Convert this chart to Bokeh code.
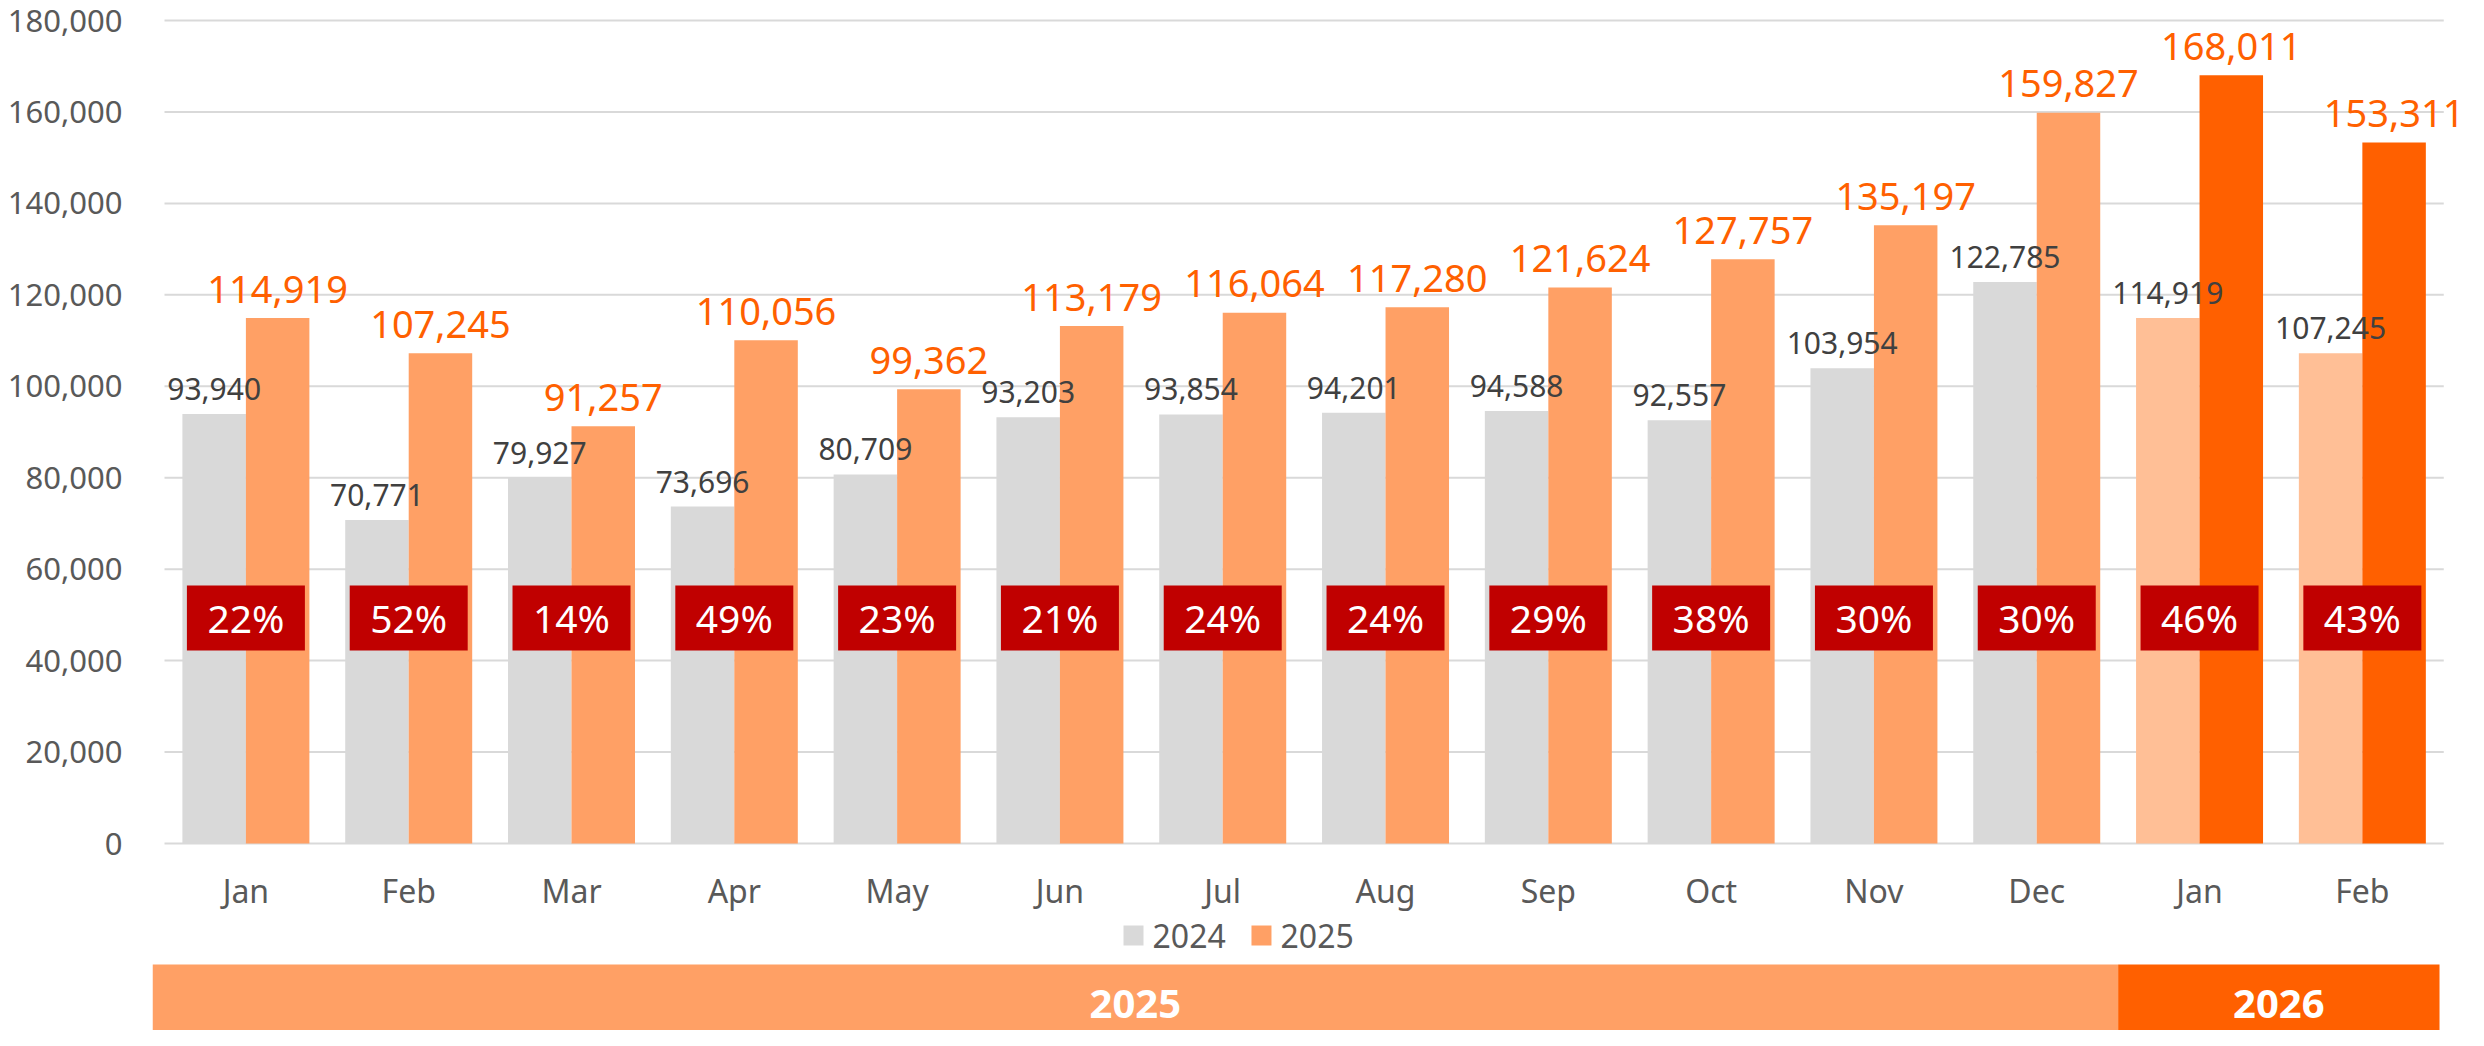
from bokeh.plotting import figure
from bokeh.models import Range1d, FixedTicker, NumeralTickFormatter, ColumnDataSource
from bokeh.core.properties import value
from bokeh.embed import file_html
from bokeh.resources import INLINE

# ---------------- data ----------------
months = ["Jan", "Feb", "Mar", "Apr", "May", "Jun", "Jul", "Aug", "Sep", "Oct", "Nov", "Dec", "Jan", "Feb"]
years = [2025] * 12 + [2026] * 2
prev_year = [93940, 70771, 79927, 73696, 80709, 93203, 93854, 94201, 94588, 92557, 103954, 122785, 114919, 107245]
curr_year = [114919, 107245, 91257, 110056, 99362, 113179, 116064, 117280, 121624, 127757, 135197, 159827, 168011, 153311]
growth_pct = [22, 52, 14, 49, 23, 21, 24, 24, 29, 38, 30, 30, 46, 43]
legend_labels = ["2024", "2025"]
y_ticks = [0, 20000, 40000, 60000, 80000, 100000, 120000, 140000, 160000, 180000]

# ---------------- styles ----------------
FONT = value("Noto Sans")
GRAY = "#D9D9D9"
ORANGE = "#FFA065"
DARK_ORANGE = "#FF6000"
PEACH = "#FFBF96"
RED = "#C00000"
TEXT_GRAY = "#595959"
LABEL_GRAY = "#404040"
LABEL_ORANGE = "#FF6000"

n = len(months)
xc = [i + 0.5 for i in range(n)]
bw = 0.39
x_prev = [x - bw / 2 for x in xc]
x_curr = [x + bw / 2 for x in xc]
prev_colors = [GRAY if y == 2025 else PEACH for y in years]
curr_colors = [ORANGE if y == 2025 else DARK_ORANGE for y in years]

X0 = -0.0737
W, H = 2468, 1030
p = figure(width=W, height=H, output_backend="svg", toolbar_location=None,
           x_range=Range1d(X0, 14.152), y_range=Range1d(-40899, 184375),
           min_border=0)
p.min_border_left = 152
p.min_border_right = 0
p.min_border_top = 0
p.min_border_bottom = 0
p.outline_line_color = None
p.background_fill_color = "white"
p.border_fill_color = "white"

p.xaxis.visible = False
p.xgrid.visible = False
p.ygrid.visible = False
yax = p.yaxis[0]
yax.ticker = FixedTicker(ticks=y_ticks)
yax.formatter = NumeralTickFormatter(format="0,0")
yax.axis_line_color = None
yax.major_tick_line_color = None
yax.minor_tick_line_color = None
yax.major_tick_out = 0
yax.major_tick_in = 0
yax.major_label_standoff = 30
yax.major_label_text_font = "Noto Sans"
yax.major_label_text_font_size = "31px"
yax.major_label_text_color = TEXT_GRAY

# horizontal gridlines spanning the category area only
p.segment(x0=[0] * len(y_ticks), x1=[n] * len(y_ticks), y0=y_ticks, y1=y_ticks,
          line_color=GRAY, line_width=2)

src = ColumnDataSource(dict(
    xc=xc, xp=x_prev, xq=x_curr, prev=prev_year, curr=curr_year,
    pc=prev_colors, cc=curr_colors, months=months,
    prev_lbl=[f"{v:,}" for v in prev_year],
    curr_lbl=[f"{v:,}" for v in curr_year],
    pct_lbl=[f"{v}%" for v in growth_pct],
    pct_y=[49320] * n,
    month_y=[-10280] * n,
))

p.vbar(x="xp", top="prev", bottom=0, width=bw, fill_color="pc", line_color=None, source=src)
p.vbar(x="xq", top="curr", bottom=0, width=bw, fill_color="cc", line_color=None, source=src)

p.text(x="xp", y="prev", text="prev_lbl", source=src, text_font=FONT, text_font_size="30px",
       text_color=LABEL_GRAY, text_align="center", text_baseline="alphabetic", y_offset=-25)
p.text(x="xq", y="curr", text="curr_lbl", source=src, text_font=FONT, text_font_size="38px",
       text_color=LABEL_ORANGE, text_align="center", text_baseline="alphabetic", y_offset=-29)

# growth boxes
p.rect(x="xc", y="pct_y", width=118, height=65, width_units="screen", height_units="screen",
       fill_color=RED, line_color=None, source=src)
p.text(x="xc", y="pct_y", text="pct_lbl", source=src, text_font=FONT, text_font_size="39px",
       text_color="white", text_align="center", text_baseline="middle")

# month labels
p.text(x="xc", y="month_y", text="months", source=src, text_font=FONT, text_font_size="32px",
       text_color=TEXT_GRAY, text_align="center", text_baseline="middle")

# legend (manual)
leg_y = -20122
leg_sq_x = [5.952, 6.738]
leg_tx_x = [6.069, 6.855]
p.rect(x=leg_sq_x, y=[leg_y] * 2, width=20, height=20, width_units="screen", height_units="screen",
       fill_color=[GRAY, ORANGE], line_color=None)
p.text(x=leg_tx_x, y=[leg_y] * 2, text=legend_labels, text_font=FONT, text_font_size="32px",
       text_color=TEXT_GRAY, text_align="left", text_baseline="middle")

# year band
band_years = sorted(set(years))
band_left, band_right = [], []
for yr in band_years:
    idx = [i for i, y in enumerate(years) if y == yr]
    band_left.append(min(idx))
    band_right.append(max(idx) + 1)
band_left[0] = X0
band_right[-1] = n - 0.026
band_col = [ORANGE, DARK_ORANGE]
p.quad(left=band_left, right=band_right, top=[-26464] * 2, bottom=[-42000] * 2,
       fill_color=band_col, line_color=None)
p.text(x=[(l + r) / 2 for l, r in zip(band_left, band_right)], y=[-34994] * 2,
       text=[str(y) for y in band_years], text_font=FONT, text_font_size="40px",
       text_font_style="bold", text_color="white", text_align="center", text_baseline="middle")

open("out.html", "w").write(file_html(p, INLINE))
